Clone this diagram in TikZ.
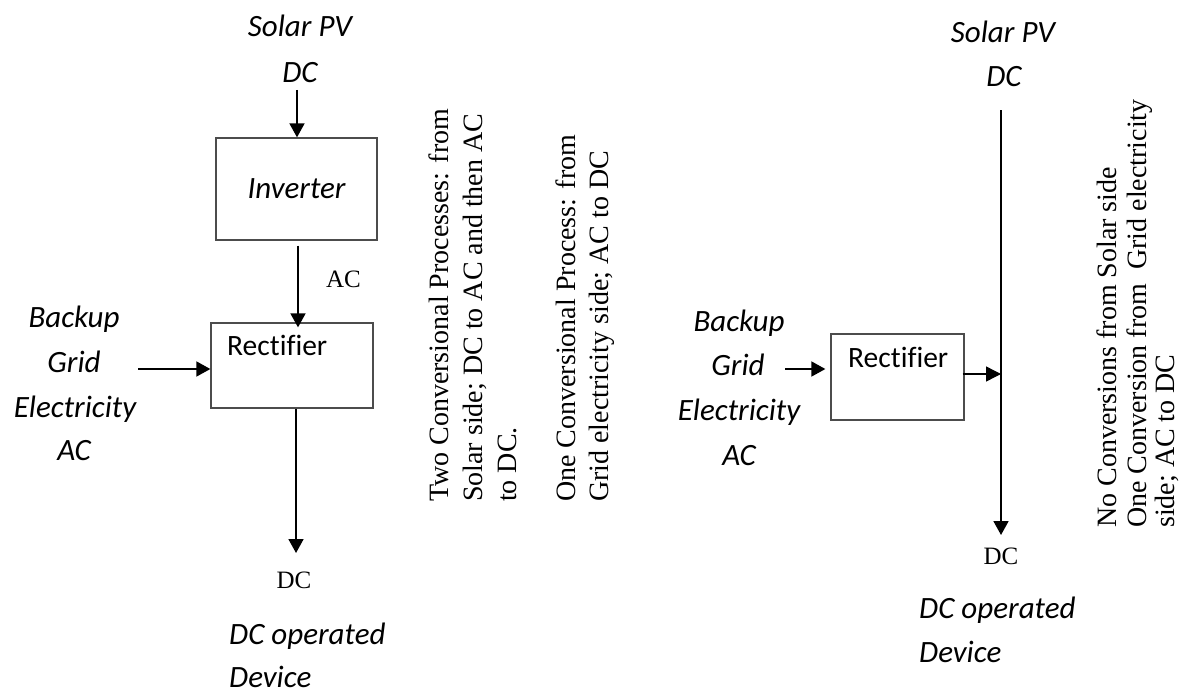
\documentclass[tikz,border=0pt]{standalone}
\usepackage{fontspec}
\setmainfont{Liberation Serif}
\newfontfamily\carl[Ligatures=NoCommon]{Carlito}
\usetikzlibrary{arrows.meta}
\tikzset{
 lbl/.style={inner sep=0pt, font=\carl\itshape\fontsize{31}{37}\selectfont},
 lblw/.style={lbl, anchor=base west},
 lblc/.style={lbl, anchor=base},
 upr/.style={inner sep=0pt, anchor=base west, font=\carl\fontsize{29.5}{35}\selectfont},
 ser/.style={inner sep=0pt, font=\fontsize{25}{30}\selectfont, anchor=base},
 rot/.style={inner sep=0pt, font=\fontsize{28}{34}\selectfont, rotate=90, anchor=base west},
 box/.style={draw=black!70, line width=1.3pt, inner sep=0pt},
 arr/.style={line width=1.8pt, -{Triangle[length=14pt,width=15pt]}},
 arrthin/.style={line width=1.4pt, -{Triangle[length=15pt,width=15pt]}},
}
\begin{document}
\begin{tikzpicture}[x=1pt,y=-1pt]
\fill[white] (0,0) rectangle (1181,693);
\useasboundingbox (0,0) rectangle (1181,693);

% ---------- left diagram ----------
\node[lblc] (sp1a) at (300,37) {Solar PV};
\node[lblc] (sp1b) at (300,83) {DC};
\node[box, minimum width=161pt, minimum height=102pt, font=\carl\itshape\fontsize{31}{37}\selectfont] (inv) at (296.5,189) {Inverter};
\node[box, minimum width=162pt, minimum height=85pt] (rect1) at (292,365.5) {};
\node[upr] (rf1) at (227,355) {Rectifier};
\node[ser] (ac1) at (343.5,287) {AC};
\node[ser] (dc1) at (294,588) {DC};

\node[lblc] (bk1a) at (74,327) {Backup};
\node[lblc] (bk1b) at (74,372) {Grid};
\node[lblc] (bk1c) at (75,417) {Electricity};
\node[lblc] (bk1d) at (74,460) {AC};

\node[lblw] (dv1a) at (229,644) {DC operated};
\node[lblw] (dv1b) at (229,687) {Device};

\coordinate (s1) at (297,90);
\draw[arr] (s1) -- (s1 |- inv.north);
\draw[arr] ([shift={(1.5,5)}]inv.south) -- ([shift={(1.5,5)}]inv.south |- rect1.north);
\coordinate (g1) at (138,369);
\draw[arr] (g1) -- (g1 -| rect1.west);
\coordinate (d1) at (296,553);
\draw[arr] (d1 |- rect1.south) -- (d1);

% ---------- rotated notes ----------
\node[rot] (t1a) at (448,502) {Two Conversional Processes: from};
\node[rot] (t1b) at (482,502) {Solar side; DC to AC and then AC};
\node[rot] (t1c) at (516,502) {to DC.};
\node[rot] (t2a) at (575,502) {One Conversional Process: from};
\node[rot] (t2b) at (608,502) {Grid electricity side; AC to DC};
\node[rot] (t3a) at (1116,528) {No Conversions from Solar side};
\node[rot] (t3b) at (1146,528) {One Conversion from~ Grid electricity};
\node[rot] (t3c) at (1174,528) {side; AC to DC};

% ---------- right diagram ----------
\node[lblc] (sp2a) at (1003,43) {Solar PV};
\node[lblc] (sp2b) at (1004,87) {DC};
\node[box, minimum width=133pt, minimum height=86pt] (rect2) at (897.5,377) {};
\node[upr] (rf2) at (848,367) {Rectifier};
\node[ser] (dc2) at (1001,564) {DC};

\node[lblc] (bk2a) at (739,331) {Backup};
\node[lblc] (bk2b) at (738,375) {Grid};
\node[lblc] (bk2c) at (739,420) {Electricity};
\node[lblc] (bk2d) at (739,465) {AC};

\node[lblw] (dv2a) at (919,618) {DC operated};
\node[lblw] (dv2b) at (919,662) {Device};

\coordinate (rtop) at (1001,110);
\coordinate (rbot) at (1001,535);
\coordinate (rjoin) at (1001,374);
\draw[arr] (rtop) -- (rbot);
\coordinate (g2) at (785,369);
\draw[arr, shorten >=5pt] (g2) -- (g2 -| rect2.west);
\draw[arrthin] ([xshift=-2pt]rect2.east |- rjoin) -- (rjoin);
\end{tikzpicture}
\end{document}
